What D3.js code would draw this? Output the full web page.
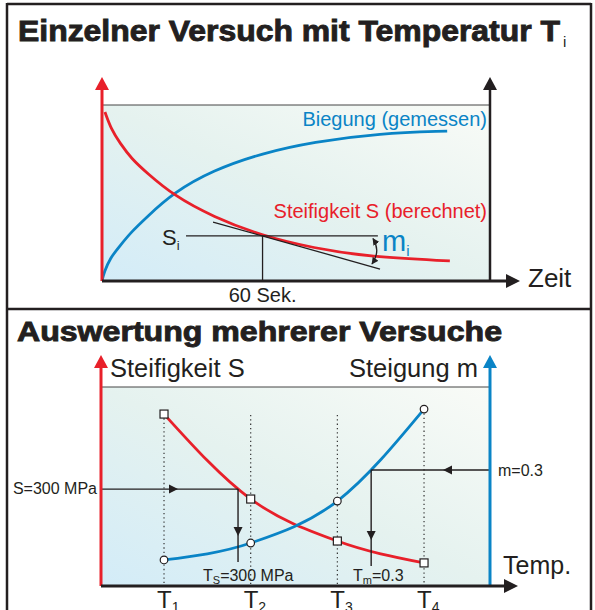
<!DOCTYPE html>
<html><head><meta charset="utf-8">
<script src="https://cdn.jsdelivr.net/npm/d3@7"></script>
<style>body{margin:0;background:#fff}svg{display:block}text{font-family:"Liberation Sans",Arial,Helvetica,sans-serif;fill:#231f20}</style>
</head><body>
<script>
// ---------- data ----------
// Top panel: single test, time axis in seconds, values in % of plot height
const timeB = [0, 0.8, 3, 6.7, 11, 16.8, 26.5, 41.5, 60, 78.8, 103.9, 129];
const biegung = [0, 5, 13, 20, 28, 36.4, 50, 63, 72.7, 79, 84, 85.2];
const timeS = [1.1, 3.5, 6.7, 11, 16.8, 26.5, 41.5, 60, 78.8, 100.1, 130];
const steifigkeit = [96, 86, 78.4, 69.5, 61.4, 48.9, 36.4, 25.6, 18.75, 13.6, 11.4];
const tangentT = [41.5, 103.9];
const tangentV = [33.5, 6.8];
const refTime = 60;          // "60 Sek."
const siValue = 25.6;        // S_i level
const siRange = [31.4, 103.1];
// Bottom panel: several tests
const temps = [1, 2, 3, 4];
const tempLabels = ["1", "2", "3", "4"];
const stiffAtT = [86.4, 43.7, 22.6, 11.6];
const slopeAtT = [13.1, 21.6, 42.7, 88.9];
const sTarget = 48.7;   // S = 300 MPa level
const mTarget = 58.3;   // m = 0.3 level
const sDropEnd = 12, mDropEnd = 10;

const RED = "#e8202a", BLUE = "#0a84c6", INK = "#231f20";
const W = 595, H = 610;
const svg = d3.select("body").append("svg").attr("width", W).attr("height", H);
const defs = svg.append("defs");
const grad = defs.append("linearGradient").attr("id", "bg")
  .attr("x1", 0).attr("y1", 1).attr("x2", 1).attr("y2", 0);
grad.append("stop").attr("offset", 0).attr("stop-color", "#d3ecf8");
grad.append("stop").attr("offset", 0.5).attr("stop-color", "#e5f2ef");
grad.append("stop").attr("offset", 1).attr("stop-color", "#f9fbf7");
defs.append("marker").attr("id", "ah").attr("viewBox", "0 0 10 10")
  .attr("refX", 9).attr("refY", 5).attr("markerWidth", 7).attr("markerHeight", 7)
  .attr("markerUnits", "userSpaceOnUse").attr("orient", "auto-start-reverse")
  .append("path").attr("d", "M0,0L10,5L0,10Z").attr("fill", INK);

function tri(x, y, dir, len, half, color) {
  let p;
  if (dir === "up") p = [[x, y], [x - half, y + len], [x + half, y + len]];
  if (dir === "down") p = [[x, y], [x - half, y - len], [x + half, y - len]];
  if (dir === "right") p = [[x, y], [x - len, y - half], [x - len, y + half]];
  if (dir === "left") p = [[x, y], [x + len, y - half], [x + len, y + half]];
  svg.append("path").attr("d", "M" + p.join("L") + "Z").attr("fill", color);
}
function line(x1, y1, x2, y2, color, w, dash) {
  const l = svg.append("line").attr("x1", x1).attr("y1", y1).attr("x2", x2).attr("y2", y2)
    .attr("stroke", color).attr("stroke-width", w);
  if (dash) l.attr("stroke-dasharray", dash);
  return l;
}
function heavyTitle(x, y, size, width, txt) {
  return svg.append("text").attr("x", x).attr("y", y).attr("font-size", size).attr("font-weight", "bold")
    .attr("textLength", width).attr("lengthAdjust", "spacingAndGlyphs")
    .style("stroke", INK).style("stroke-width", 0.9).style("paint-order", "stroke")
    .text(txt);
}

// ---------- frame ----------
line(7, 4, 591, 4, INK, 2.5);
line(7, 3, 7, H + 2, INK, 2.5);
line(591, 3, 591, H + 2, INK, 2.5);
line(7, 309, 591, 309, INK, 2.5);

// ---------- top panel ----------
heavyTitle(18, 41, 29, 542, "Einzelner Versuch mit Temperatur T");
svg.append("text").attr("x", 563).attr("y", 47).attr("font-size", 15).text("i");

const xT = d3.scaleLinear().domain([0, 145]).range([102, 490]);
const yT = d3.scaleLinear().domain([0, 100]).range([281, 105]);

svg.append("rect").attr("x", xT(0)).attr("y", yT(100)).attr("width", xT(145) - xT(0))
  .attr("height", yT(0) - yT(100)).attr("fill", "url(#bg)");
line(xT(0), yT(100), xT(145), yT(100), "#444", 1);

const lineT = d3.line().x(d => xT(d[0])).y(d => yT(d[1])).curve(d3.curveBasis);
svg.append("path").attr("d", lineT(timeB.map((t, i) => [t, biegung[i]])))
  .attr("fill", "none").attr("stroke", BLUE).attr("stroke-width", 2.8);
svg.append("path").attr("d", lineT(timeS.map((t, i) => [t, steifigkeit[i]])))
  .attr("fill", "none").attr("stroke", RED).attr("stroke-width", 2.8);

// tangent & S_i construction
line(xT(tangentT[0]), yT(tangentV[0]), xT(tangentT[1]), yT(tangentV[1]), INK, 1.3);
line(xT(siRange[0]), yT(siValue), xT(siRange[1]), yT(siValue), INK, 1.3);
line(xT(refTime), yT(siValue), xT(refTime), yT(0), INK, 1.3);
svg.append("path").attr("d", "M373,238.5 Q381,251 372,264").attr("fill", "none")
  .attr("stroke", INK).attr("stroke-width", 1.3)
  .attr("marker-start", "url(#ah)").attr("marker-end", "url(#ah)");

// axes
line(xT(0), yT(0), xT(0), 86, RED, 3);
tri(xT(0), 77, "up", 13, 7, RED);
line(xT(145), yT(0), xT(145), 86, INK, 2.5);
tri(xT(145), 77, "up", 13, 7, INK);
line(xT(0), yT(0), 508, yT(0), INK, 3.2);
tri(520, yT(0), "right", 14, 7, INK);

// texts
svg.append("text").attr("x", 487).attr("y", 126).attr("text-anchor", "end").attr("font-size", 20)
  .style("fill", BLUE).text("Biegung (gemessen)");
svg.append("text").attr("x", 487).attr("y", 218).attr("text-anchor", "end").attr("font-size", 20)
  .style("fill", RED).text("Steifigkeit S (berechnet)");
svg.append("text").attr("x", 162).attr("y", 245).attr("font-size", 22).text("S")
  .append("tspan").attr("font-size", 13).attr("dy", 5).text("i");
svg.append("text").attr("x", 382).attr("y", 251).attr("font-size", 29).style("fill", BLUE).text("m")
  .append("tspan").attr("font-size", 15).attr("dy", 5).style("fill", BLUE).text("i");
svg.append("text").attr("x", 528).attr("y", 287).attr("font-size", 26).text("Zeit");
svg.append("text").attr("x", xT(refTime)).attr("y", 302).attr("text-anchor", "middle")
  .attr("font-size", 20).text("60 Sek.");

// ---------- bottom panel ----------
heavyTitle(17, 341, 27, 485, "Auswertung mehrerer Versuche");

const xB = d3.scaleLinear().domain([0.273, 4.761]).range([101, 490]);
const yB = d3.scaleLinear().domain([0, 100]).range([586, 387]);

svg.append("rect").attr("x", xB(0.273)).attr("y", yB(100)).attr("width", xB(4.761) - xB(0.273))
  .attr("height", yB(0) - yB(100)).attr("fill", "url(#bg)");
line(xB(0.273), yB(100), xB(4.761), yB(100), "#444", 1);

// dotted verticals
temps.forEach((t, i) => {
  const top = Math.min(yB(stiffAtT[i]), yB(slopeAtT[i]), 415);
  line(xB(t), top, xB(t), yB(0), "#333", 1.2, "1.3,3");
});

const lineB = d3.line().x(d => xB(d[0])).y(d => yB(d[1])).curve(d3.curveMonotoneX);
const redPath = svg.append("path").attr("d", lineB(temps.map((t, i) => [t, stiffAtT[i]])))
  .attr("fill", "none").attr("stroke", RED).attr("stroke-width", 2.8);
const bluePath = svg.append("path").attr("d", lineB(temps.map((t, i) => [t, slopeAtT[i]])))
  .attr("fill", "none").attr("stroke", BLUE).attr("stroke-width", 2.8);

function findAtY(pathSel, yTarget) {
  const node = pathSel.node(), L = node.getTotalLength();
  let best = null, bd = 1e9;
  for (let s = 0; s <= L; s += 0.25) {
    const p = node.getPointAtLength(s);
    const d = Math.abs(p.y - yTarget);
    if (d < bd) { bd = d; best = p; }
  }
  return best;
}
const pS = findAtY(redPath, yB(sTarget));
const pM = findAtY(bluePath, yB(mTarget));

// S = 300 MPa construction
line(xB(0.273), yB(sTarget), pS.x, yB(sTarget), INK, 1.4);
tri(178, yB(sTarget), "right", 9, 4.5, INK);
line(pS.x, yB(sTarget), pS.x, yB(sDropEnd), INK, 1.4);
tri(pS.x, 536, "down", 9, 4.5, INK);
// m = 0.3 construction
line(xB(4.761), yB(mTarget), pM.x, yB(mTarget), INK, 1.4);
tri(443, yB(mTarget), "left", 9, 4.5, INK);
line(pM.x, yB(mTarget), pM.x, yB(mDropEnd), INK, 1.4);
tri(pM.x, 540, "down", 9, 4.5, INK);

// markers
svg.selectAll("rect.sq").data(temps).join("rect").attr("class", "sq")
  .attr("x", (t) => xB(t) - 4).attr("y", (t, i) => yB(stiffAtT[i]) - 4)
  .attr("width", 8).attr("height", 8).attr("fill", "#fff").attr("stroke", INK).attr("stroke-width", 1.2);
svg.selectAll("circle.ci").data(temps).join("circle").attr("class", "ci")
  .attr("cx", (t) => xB(t)).attr("cy", (t, i) => yB(slopeAtT[i])).attr("r", 3.8)
  .attr("fill", "#fff").attr("stroke", INK).attr("stroke-width", 1.2);

// axes
line(xB(0.273), yB(0), xB(0.273), 366, RED, 3);
tri(xB(0.273), 355, "up", 13, 7, RED);
line(xB(4.761), yB(0), xB(4.761), 366, BLUE, 3);
tri(xB(4.761), 355, "up", 13, 7, BLUE);
line(xB(0.273), yB(0), 506, yB(0), INK, 3.2);
tri(518, yB(0), "right", 14, 7, INK);

// tick labels
temps.forEach((t, i) => {
  svg.append("text").attr("x", xB(t) - 7).attr("y", 608).attr("font-size", 24).text("T")
    .append("tspan").attr("font-size", 14).attr("dy", 4).text(tempLabels[i]);
});

// texts
svg.append("text").attr("x", 110).attr("y", 377).attr("font-size", 25.5).text("Steifigkeit S");
svg.append("text").attr("x", 478).attr("y", 377).attr("text-anchor", "end").attr("font-size", 25.5).text("Steigung m");
svg.append("text").attr("x", 97).attr("y", 494).attr("text-anchor", "end").attr("font-size", 16).text("S=300 MPa");
svg.append("text").attr("x", 498).attr("y", 476).attr("font-size", 16).text("m=0.3");
svg.append("text").attr("x", 203).attr("y", 581).attr("font-size", 16).text("T")
  .append("tspan").attr("font-size", 11).attr("dy", 3).text("S")
  .select(function () { return this.parentNode; })
  .append("tspan").attr("dy", -3).attr("font-size", 16).text("=300 MPa");
svg.append("text").attr("x", 353).attr("y", 581).attr("font-size", 16).text("T")
  .append("tspan").attr("font-size", 11).attr("dy", 3).text("m")
  .select(function () { return this.parentNode; })
  .append("tspan").attr("dy", -3).attr("font-size", 16).text("=0.3");
svg.append("text").attr("x", 503).attr("y", 574).attr("font-size", 25).text("Temp.");
</script>
</body></html>
